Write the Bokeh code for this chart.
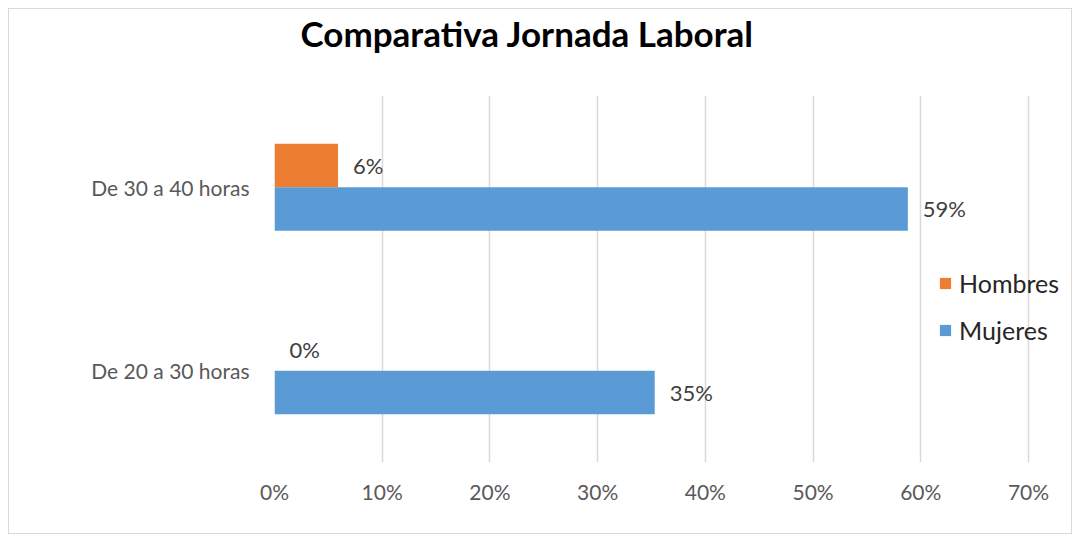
from bokeh.plotting import figure
from bokeh.models import ColumnDataSource, NumeralTickFormatter, FixedTicker, Legend, LegendItem, LabelSet
from bokeh.transform import dodge
from bokeh.core.properties import value
from bokeh.embed import file_html
from bokeh.resources import INLINE

categories = ["De 20 a 30 horas", "De 30 a 40 horas"]
hombres = [0.0, 0.059]
mujeres = [0.353, 0.588]
x_ticks = [0.0, 0.1, 0.2, 0.3, 0.4, 0.5, 0.6, 0.7]
title_text = "Comparativa Jornada Laboral"

FONT = "Lato"

src = ColumnDataSource(dict(
    cat=categories,
    hombres=hombres,
    mujeres=mujeres,
    h_lbl=[f"{round(v*100):.0f}%" for v in hombres],
    m_lbl=[f"{round(v*100):.0f}%" for v in mujeres],
))

# trailing empty line lifts the title inside the (fixed-height) top panel
p = figure(y_range=categories, x_range=(0, 0.7353), width=1064, height=526,
           output_backend="svg", toolbar_location=None,
           title=title_text + "\n ")
p.styles = {"border": "1px solid #d9d9d9", "margin-left": "8px", "margin-top": "8px"}
p.min_border_left = 265
p.min_border_right = 7
p.min_border_top = 86
p.min_border_bottom = 73
p.outline_line_color = None
p.y_range.range_padding = 0

p.title.text_font = FONT
p.title.text_font_size = "35px"
p.title.text_font_style = "bold"
p.title.text_color = "#000000"
p.title.align = "left"
p.title.offset = 26
p.title.standoff = 0

bw = 0.237
rh = p.hbar(y=dodge("cat", bw / 2, range=p.y_range), right="hombres", left=0, height=bw,
            source=src, fill_color="#ED7D31", line_color=None)
rm = p.hbar(y=dodge("cat", -bw / 2, range=p.y_range), right="mujeres", left=0, height=bw,
            source=src, fill_color="#5B9BD5", line_color=None)

for col, lbl, off in (("hombres", "h_lbl", bw / 2), ("mujeres", "m_lbl", -bw / 2)):
    p.add_layout(LabelSet(x=col, y=dodge("cat", off, range=p.y_range), text=lbl, source=src,
                          x_offset=15, text_baseline="middle", text_align="left",
                          text_font=value(FONT), text_font_size="22px", text_color="#404040"))

p.xaxis.ticker = FixedTicker(ticks=x_ticks)
p.xaxis.formatter = NumeralTickFormatter(format="0%")
for ax in (p.xaxis[0], p.yaxis[0]):
    ax.axis_line_color = None
    ax.major_tick_line_color = None
    ax.minor_tick_line_color = None
    ax.major_label_text_font = FONT
    ax.major_label_text_font_size = "21px"
    ax.major_label_text_color = "#595959"
p.xaxis.major_label_standoff = 10
p.yaxis.major_label_standoff = 19

p.xgrid.grid_line_color = "#d9d9d9"
p.xgrid.grid_line_width = 1.5
p.ygrid.grid_line_color = None

legend = Legend(items=[LegendItem(label="Hombres", renderers=[rh]),
                       LegendItem(label="Mujeres", renderers=[rm])],
                location=(664, 117), glyph_width=14, glyph_height=14,
                label_text_font=FONT, label_text_font_size="25px", label_text_color="#262626",
                spacing=17, label_height=27, background_fill_alpha=0, border_line_color=None,
                padding=5, label_standoff=7)
p.add_layout(legend, "center")

open("out.html", "w").write(file_html(p, INLINE))
